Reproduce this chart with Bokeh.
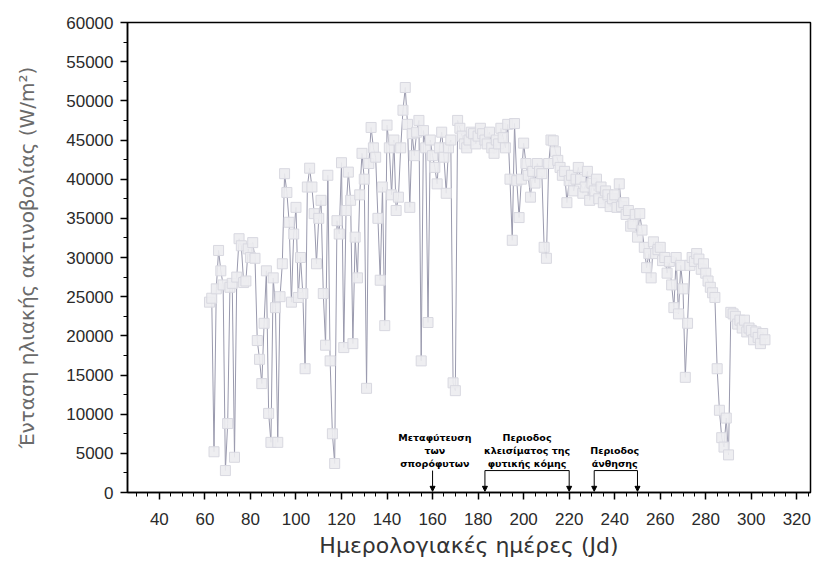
from bokeh.plotting import figure
from bokeh.embed import file_html
from bokeh.resources import INLINE
from bokeh.models import Range1d, SingleIntervalTicker, NumeralTickFormatter, Arrow, NormalHead, ColumnDataSource
from bokeh.core.properties import value

# ---------------- data ----------------
days = list(range(62, 307))
irradiance = [
    24300, 24800, 5200, 26000, 30900, 28300, 26500, 2800, 8800, 26200,
    26700, 4500, 27500, 32400, 31500, 26800, 27000, 31100, 30000, 31900,
    29900, 19400, 17000, 13900, 21600, 28300, 10100, 6400, 27400, 23600,
    6400, 25000, 29200, 40700, 38300, 34500, 24300, 33000, 36400, 24900,
    30000, 25400, 15800, 39000, 41400, 39000, 35600, 29200, 35000, 37300,
    25400, 18800, 40500, 16800, 7500, 3700, 34700, 33000, 42100, 18500,
    36000, 40900, 37300, 19000, 32600, 27400, 38000, 43300, 40000, 13300,
    42000, 46600, 44000, 42800, 35000, 27100, 39000, 21300, 46900, 44000,
    38000, 45000, 36000, 37700, 44000, 48800, 51700, 47000, 36400, 45800,
    43000, 46000, 47500, 16800, 46200, 44000, 21700, 45000, 43000, 41500,
    39400, 44000, 46000, 42800, 38200, 44000, 45000, 14000, 13000, 47500,
    46500, 45500, 44500, 44000, 45000, 46000, 45800, 44500, 45500, 46500,
    45800, 45000, 44500, 46000, 44000, 43300, 45000, 44500, 46500, 45300,
    44000, 47000, 40000, 32200, 47100, 39800, 35100, 40000, 44600, 42000,
    40500, 37700, 41000, 39500, 42000, 41000, 40700, 31300, 29900, 42000,
    45000, 44900, 43500, 42400, 41500, 40500, 41000, 37000, 39800, 40500,
    38500, 40000, 41500, 40000, 38200, 39000, 41000, 37300, 39500, 38500,
    40000, 37500, 39000, 37000, 38500, 38000, 36500, 37500, 38000, 36400,
    39400, 36500, 37000, 35500, 36000, 34000, 34300, 35500, 32600, 35600,
    33500, 31300, 28700, 30500, 27400, 32000, 30500, 31000, 31300, 29600,
    30000, 28000, 29500, 26500, 23600, 30000, 22800, 29000, 26000, 14700,
    21600, 29000, 30000, 29500, 30500, 29800, 28500, 29200, 28000, 27000,
    26200, 25500, 24900, 15800, 10500, 7000, 5800, 9500, 4800, 23000,
    22800, 22500, 21500, 22000, 21000, 22000, 20500, 21000, 20700, 19500,
    20500, 19800, 19000, 20300, 19500,
]

# annotation events (days)
transplant_day = 160
closure_period = [183, 220]
flowering_period = [231, 250]

transplant_text = ["Μεταφύτευση", "των", "σπορόφυτων"]
closure_text = ["Περιοδος", "κλεισίματος της", "φυτικής κόμης"]
flowering_text = ["Περιοδος", "άνθησης"]

x_title = "Ημερολογιακές ημέρες (Jd)"
y_title = "Ένταση ηλιακής ακτινοβολίας (W/m²)"

# ---------------- figure ----------------
p = figure(width=812, height=560, x_range=Range1d(26, 326), y_range=Range1d(0, 60000),
           output_backend="svg", toolbar_location=None,
           min_border_left=127, min_border_right=2, min_border_top=22, min_border_bottom=68)
p.xgrid.visible = False
p.ygrid.visible = False
p.outline_line_color = "black"
p.outline_line_width = 1.5
p.background_fill_color = "white"

src = ColumnDataSource(dict(x=days, y=irradiance))
p.line("x", "y", source=src, line_color="#9a9aae", line_width=1)
p.scatter("x", "y", source=src, marker="square", size=10,
          fill_color="#ececf0", line_color="#d8d8e0", line_width=1, fill_alpha=0.9)

# axes
p.xaxis.ticker = SingleIntervalTicker(interval=20, num_minor_ticks=4)
p.yaxis.ticker = SingleIntervalTicker(interval=5000, num_minor_ticks=2)
p.yaxis.formatter = NumeralTickFormatter(format="0")
for ax in (p.xaxis[0], p.yaxis[0]):
    ax.axis_line_color = "black"
    ax.axis_line_width = 1.5
    ax.major_tick_line_color = "black"
    ax.minor_tick_line_color = "black"
    ax.major_tick_line_width = 1.5
    ax.minor_tick_line_width = 1
    ax.major_tick_in = 0
    ax.major_tick_out = 7
    ax.minor_tick_in = 0
    ax.minor_tick_out = 4
    ax.major_label_text_font = "Liberation Sans"
    ax.major_label_text_font_size = "17px"
    ax.major_label_text_color = "#2a2a2a"
    ax.axis_label_text_font = "DejaVu Sans"
    ax.axis_label_text_font_style = "normal"

p.xaxis.major_label_standoff = 13
p.xaxis.axis_label = x_title
p.xaxis.axis_label_text_font_size = "22px"
p.xaxis.axis_label_text_color = "#333333"
p.xaxis.axis_label_standoff = 5

p.yaxis.axis_label = y_title
p.yaxis.axis_label_text_font_size = "20px"
p.yaxis.axis_label_text_color = "#6a6a6a"
p.yaxis.axis_label_standoff = 24
p.yaxis.major_label_standoff = 7

# ---------------- annotations ----------------
bracket_y = 2800
tip_y = 150
line_gap = 1660
top_y = 7020
text_kw = dict(text_font=value("DejaVu Sans"), text_font_style="bold", text_font_size="9.5px",
               text_align="center", text_baseline="middle", text_color="black")

p.text(x=[transplant_day + 1] * 3, y=[top_y - i * line_gap for i in range(3)], text=transplant_text, **text_kw)
p.text(x=[sum(closure_period) / 2] * 3, y=[top_y - i * line_gap for i in range(3)], text=closure_text, **text_kw)
p.text(x=[sum(flowering_period) / 2 - 0.5] * 2, y=[top_y - (i + 1) * line_gap for i in range(2)], text=flowering_text, **text_kw)

def arrow(xd):
    p.add_layout(Arrow(end=NormalHead(size=5, fill_color="black", line_color="black"),
                       x_start=xd, y_start=bracket_y, x_end=xd, y_end=tip_y,
                       line_color="black", line_width=1))

arrow(transplant_day)
for a, b in (closure_period, flowering_period):
    p.segment(x0=[a], y0=[bracket_y], x1=[b], y1=[bracket_y], line_color="black", line_width=1)
    arrow(a)
    arrow(b)

open("out.html", "w").write(file_html(p, INLINE))
